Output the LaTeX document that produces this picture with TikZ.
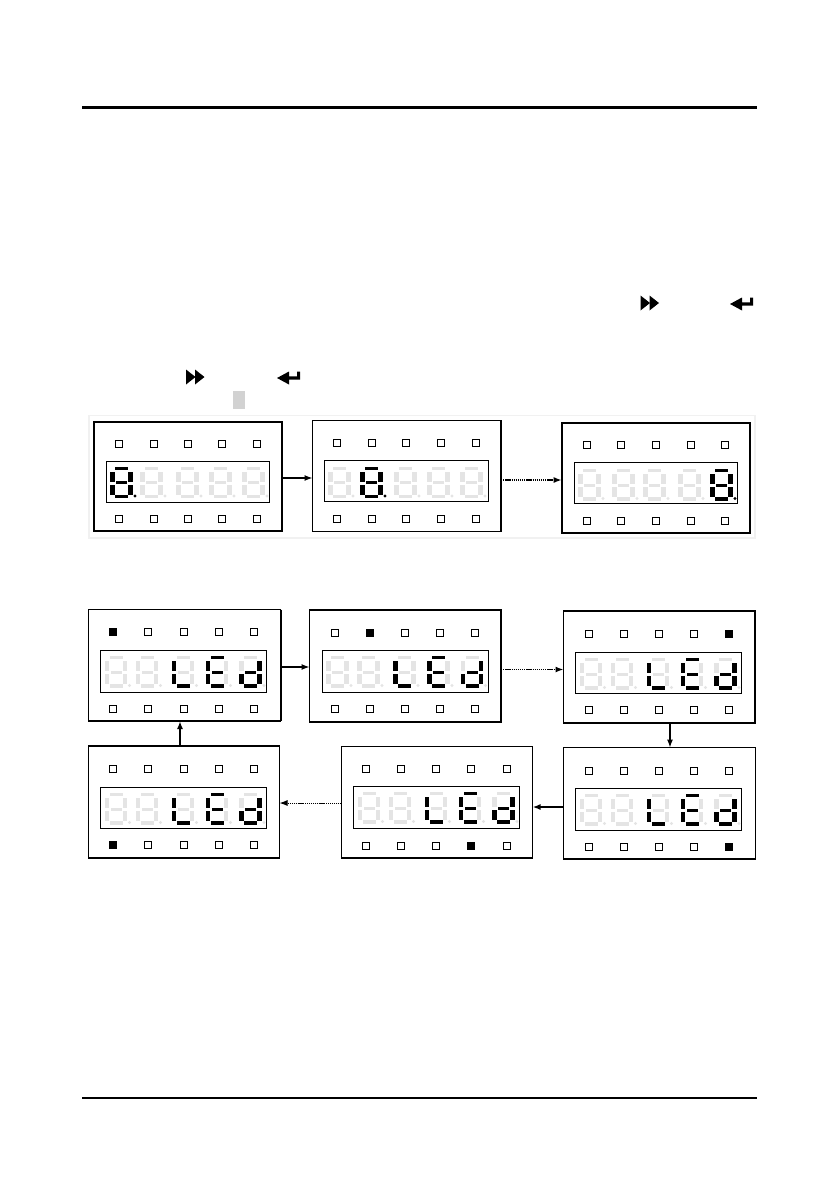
\documentclass[tikz,border=0pt]{standalone}
\usetikzlibrary{arrows.meta}
\definecolor{ghost}{HTML}{E4E4E4}
\definecolor{framegrey}{HTML}{F1F1F1}
\tikzset{
  x=1pt,y=-1pt,
  panelbox/.style={draw=black,line width=1.1pt,inner sep=0pt,outer sep=0pt,anchor=north west},
  dispbox/.style={draw=black,line width=1pt,inner sep=0pt,outer sep=0pt,anchor=north west},
  led/.style={draw=black,line width=1pt,fill=white,inner sep=0pt,outer sep=0pt,minimum width=7pt,minimum height=6.8pt},
  ledon/.style={led,fill=black},
  arr/.style={line width=1.2pt,-{Latex[length=8pt,width=6pt]}},
  dotarr/.style={line width=1.5pt,dash pattern=on 1.3pt off 0.8pt,-{Latex[length=8pt,width=6pt,sep=0pt]}},
  rule/.style={line width=1.6pt,black}
}
\newcommand{\seg}[5]{\fill[#1] ({#2},{#3}) rectangle ({#4},{#5});}
% \digit{x}{y}{a}{b}{c}{d}{e}{f}{g}
\newcommand{\digit}[9]{%
  \seg{#3}{#1+5}{#2}{#1+18}{#2+3.3}%
  \seg{#4}{#1+18}{#2+5}{#1+22.5}{#2+15}%
  \seg{#5}{#1+18}{#2+18.2}{#1+22.5}{#2+28}%
  \seg{#6}{#1+5}{#2+28.3}{#1+18}{#2+31.6}%
  \seg{#7}{#1}{#2+18.2}{#1+4.5}{#2+28}%
  \seg{#8}{#1}{#2+5}{#1+4.5}{#2+15}%
  \seg{#9}{#1+6}{#2+14.8}{#1+17}{#2+17.6}%
}
\newcommand{\dpdot}[3]{\fill[#3] ({#1+25},{#2+29.5}) circle (1.6pt);}
\newcommand{\ghostdigit}[2]{\digit{#1}{#2}{ghost}{ghost}{ghost}{ghost}{ghost}{ghost}{ghost}\dpdot{#1}{#2}{ghost}}
\newcommand{\eightdigit}[2]{\digit{#1}{#2}{black}{black}{black}{black}{black}{black}{black}\dpdot{#1}{#2}{black}}
\newcommand{\Ldigit}[2]{\digit{#1}{#2}{ghost}{ghost}{ghost}{black}{black}{black}{ghost}\dpdot{#1}{#2}{ghost}}
\newcommand{\Edigit}[2]{\digit{#1}{#2}{black}{ghost}{ghost}{black}{black}{black}{black}\dpdot{#1}{#2}{ghost}}
\newcommand{\Ddigit}[2]{\digit{#1}{#2}{ghost}{black}{black}{black}{black}{ghost}{black}\dpdot{#1}{#2}{ghost}}
\newcommand{\panelframe}[9]{%
  \node[panelbox,minimum width=#4pt-#2pt,minimum height=#5pt-#3pt] (#1) at (#2,#3) {};%
  \node[dispbox,minimum width=#8pt-#6pt,minimum height=#9pt-#7pt] (#1disp) at (#6,#7) {};%
}
\newcommand{\leds}[9]{%
  \def\lx{{#2,#3,#4,#5,#6}}%
  \foreach \i in {1,2,3,4,5}{%
    \pgfmathparse{\lx[\i-1]}\let\cx\pgfmathresult
    \ifnum\i=\ledtop\relax\def\st{ledon}\else\def\st{led}\fi
    \node[\st] (#1t\i) at (\cx,#7) {};%
    \ifnum\i=\ledbot\relax\def\st{ledon}\else\def\st{led}\fi
    \node[\st] (#1b\i) at (\cx,#8) {};%
  }%
}
\newcommand{\ledtop}{0}\newcommand{\ledbot}{0}
\newcommand{\ledword}[2]{%
  \ghostdigit{#1+4}{#2}\ghostdigit{#1+35}{#2}\Ldigit{#1+71}{#2}\Edigit{#1+105}{#2}\Ddigit{#1+138.5}{#2}}
\begin{document}
\begin{tikzpicture}
\useasboundingbox (0,0) rectangle (839,1191);
\fill[white] (0,0) rectangle (839,1191);
\coordinate (ruleTopL) at (82,107.5);\coordinate (ruleTopR) at (757,107.5);
\coordinate (ruleBotL) at (82,1098);\coordinate (ruleBotR) at (757,1098);
\draw[line width=2.4pt] (ruleTopL) -- (ruleTopR);
\draw[rule] (ruleBotL) -- (ruleBotR);
\newcommand{\ffwd}[2]{\fill[black] (#1,#2) -- (#1+9.5,#2+7.5) -- (#1,#2+15) -- cycle;
  \fill[black] (#1+9,#2) -- (#1+18.5,#2+7.5) -- (#1+9,#2+15) -- cycle;}
\newcommand{\retkey}[2]{\fill[black] (#1,#2+6.5) -- (#1+12,#2) -- (#1+12,#2+4.8) -- (#1+20,#2+4.8) -- (#1+20,#2) -- (#1+23,#2) -- (#1+23,#2+8.2) -- (#1+12,#2+8.2) -- (#1+12,#2+13) -- cycle;}
\ffwd{640.5}{295.5}
\retkey{730}{297.5}
\ffwd{186}{369.5}
\retkey{277}{371.5}
\fill[gray!35] (233,391) rectangle (245,409);
\draw[framegrey,line width=1.2pt] (89,415.5) rectangle (755,538);
% first row
\panelframe{pa}{94}{422}{282}{531}{106}{461}{269}{502}
\draw[line width=2pt] (94,422) -- (94,531);
\renewcommand{\ledtop}{0}\renewcommand{\ledbot}{0}
\leds{pa}{118.7}{153.5}{187.7}{222}{257}{444}{519}{}
\eightdigit{110}{466.5}\ghostdigit{140}{466.5}\ghostdigit{176}{466.5}\ghostdigit{209}{466.5}\ghostdigit{242}{466.5}
\panelframe{pb}{312.5}{420.5}{501}{531.5}{324.5}{460}{488}{501}
\leds{pb}{337}{372}{406}{441}{476}{443}{519}{}
\ghostdigit{328}{466.5}\eightdigit{360}{466.5}\ghostdigit{394}{466.5}\ghostdigit{427}{466.5}\ghostdigit{460}{466.5}
\panelframe{pc}{561.7}{422.7}{750}{533}{574}{462.5}{737.7}{503.5}
\draw[line width=2pt] (561.7,422.7) rectangle (750,533);
\leds{pc}{586.5}{621}{655.7}{690.5}{725}{445}{521}{}
\ghostdigit{578}{469}\ghostdigit{612}{469}\ghostdigit{643}{469}\ghostdigit{678}{469}\eightdigit{710}{469}
\draw[arr] (pa.east |- 0,478) -- (pb.west |- 0,478);
\draw[dotarr] (pb.east |- 0,480) -- (pc.west |- 0,480);
% second block
\panelframe{qa}{88.5}{609.5}{280.5}{721}{100.5}{650.5}{266.5}{692}
\draw[line width=2pt] (280.5,609.5) -- (280.5,721);
\renewcommand{\ledtop}{1}\renewcommand{\ledbot}{0}
\leds{qa}{113}{148}{184}{219}{254}{632}{709}{}
\ledword{100.5}{656}
\panelframe{qb}{309.5}{609.5}{501}{722}{322}{650}{488}{692}
\draw[line width=2pt] (309.5,609.5) -- (501,609.5);
\renewcommand{\ledtop}{2}\renewcommand{\ledbot}{0}
\leds{qb}{335}{370}{405}{440}{475}{633}{709}{}
\ledword{322}{656}
\panelframe{qc}{563.5}{611}{755}{723}{575.5}{652}{741.5}{693}
\renewcommand{\ledtop}{5}\renewcommand{\ledbot}{0}
\leds{qc}{589}{624}{659}{694}{729}{634}{710}{}
\ledword{575.5}{658}
\panelframe{qd}{563.5}{747.5}{755.5}{859}{575.5}{788}{741.5}{830}
\renewcommand{\ledtop}{0}\renewcommand{\ledbot}{5}
\leds{qd}{589}{624}{659}{694}{729}{771}{847}{}
\ledword{575.5}{794}
\panelframe{qe}{341.5}{746.5}{532.5}{858}{353.5}{786}{519.5}{828}
\renewcommand{\ledtop}{0}\renewcommand{\ledbot}{4}
\leds{qe}{366}{401}{436}{471}{507}{769}{846}{}
\ledword{353.5}{792}
\panelframe{qf}{88.5}{746}{279.5}{858}{100.5}{787}{266.5}{828}
\renewcommand{\ledtop}{0}\renewcommand{\ledbot}{1}
\leds{qf}{113}{148}{184}{219}{254}{769}{845}{}
\ledword{100.5}{793}
% connectors
\draw[arr] (qa.east |- 0,667) -- (qb.west |- 0,667);
\draw[dotarr] (qb.east |- 0,669.5) -- (qc.west |- 0,669.5);
\draw[arr] (qc.south -| 670,0) -- (qd.north -| 670,0);
\draw[arr,line width=1.8pt] (qd.west |- 0,807) -- (qe.east |- 0,807);
\draw[dotarr,line width=1pt] (qe.west |- 0,803) -- (qf.east |- 0,803);
\draw[arr,line width=1.8pt] (qf.north -| 180,0) -- (qa.south -| 180,0);
\end{tikzpicture}
\end{document}
